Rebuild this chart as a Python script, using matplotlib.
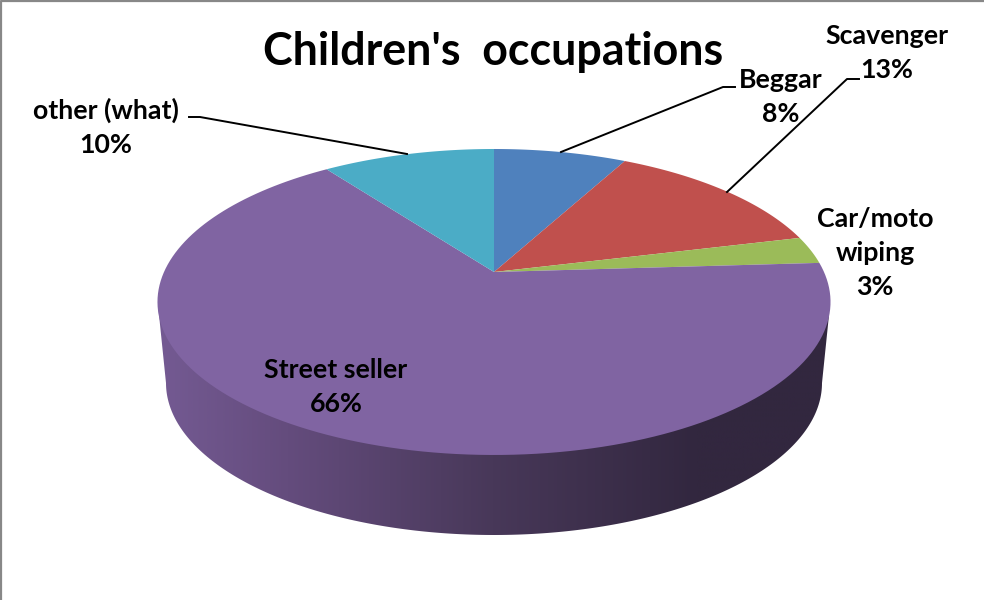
import numpy as np
import matplotlib
matplotlib.use('Agg')
import matplotlib.pyplot as plt
from matplotlib.colors import LinearSegmentedColormap
from matplotlib.patches import PathPatch
from matplotlib.path import Path

plt.rcParams['font.family'] = ['Lato', 'DejaVu Sans']

title = "Children's  occupations"
categories = ['Beggar', 'Scavenger', 'Car/moto\nwiping', 'Street seller', 'other (what)']
values = [7.7, 13.4, 2.9, 66, 10]
colors = ['#4f81bd', '#c0504d', '#9bbb59', '#8064a2', '#4bacc6']

fig = plt.figure(figsize=(9.84, 6), dpi=100)
ax = fig.add_axes([0, 0, 1, 1])
ax.set_xlim(0, 984)
ax.set_ylim(600, 0)
ax.axis('off')


def top_point(t):
    # circle seen in perspective, t is clockwise from 12 o'clock
    k = 0.196
    d = 1 + k * np.cos(t)
    return 494 + 330 * np.sin(t) / d, (272 - 93.8 * np.cos(t)) / d


# side of the pie, shaded from left to right
a = np.linspace(np.pi, 0, 200)
side_x = np.r_[158, 494 + 328 * np.cos(a), 829]
side_y = np.r_[305, 383 + 152 * np.sin(a), 315]
side_path = Path(np.c_[np.r_[side_x, 158], np.r_[side_y, 305]], closed=True)
side_cmap = LinearSegmentedColormap.from_list(
    'side', [(0, '#755b94'), (0.2, '#644c7d'), (0.5, '#483859'), (0.8, '#32273f'), (1, '#32273f')])
im = ax.imshow(np.linspace(0, 1, 700)[None, :], cmap=side_cmap, aspect='auto',
               extent=[150, 835, 600, 250], interpolation='bilinear', zorder=1)
clip = PathPatch(side_path, transform=ax.transData, fc='none', ec='none')
ax.add_patch(clip)
im.set_clip_path(clip)
ax.set_xlim(0, 984)
ax.set_ylim(600, 0)

# top of the pie
edges = np.cumsum([0] + values) / sum(values) * 2 * np.pi
for i in range(len(values)):
    t = np.linspace(edges[i], edges[i + 1], 150)
    x, y = top_point(t)
    ax.fill(np.r_[494, x], np.r_[272, y], color=colors[i], lw=0, zorder=2)

# leader lines
ax.plot([561, 723, 735], [152, 87, 87], color='black', lw=1.4, zorder=3)
ax.plot([727, 847, 859], [192, 79, 79], color='black', lw=1.4, zorder=3)
ax.plot([407, 200, 189], [154, 117, 117], color='black', lw=1.4, zorder=3)

label_x = [781, 887, 875, 336, 106]
label_y = [97, 53, 253, 387, 127]
for name, v, x, y in zip(categories, values, label_x, label_y):
    ax.text(x, y, f'{name}\n{v:.0f}%', ha='center', va='center', fontsize=19.3,
            fontweight='bold', color='black', linespacing=1.5, zorder=4)

ax.text(493, 52, title, ha='center', va='center', fontsize=32.2,
        fontweight='bold', color='black', zorder=4)

# grey frame on top and left
ax.plot([1, 1, 984], [600, 1, 1], color='#888888', lw=1.6, zorder=5, clip_on=False)

fig.savefig('out.png', dpi=100)
